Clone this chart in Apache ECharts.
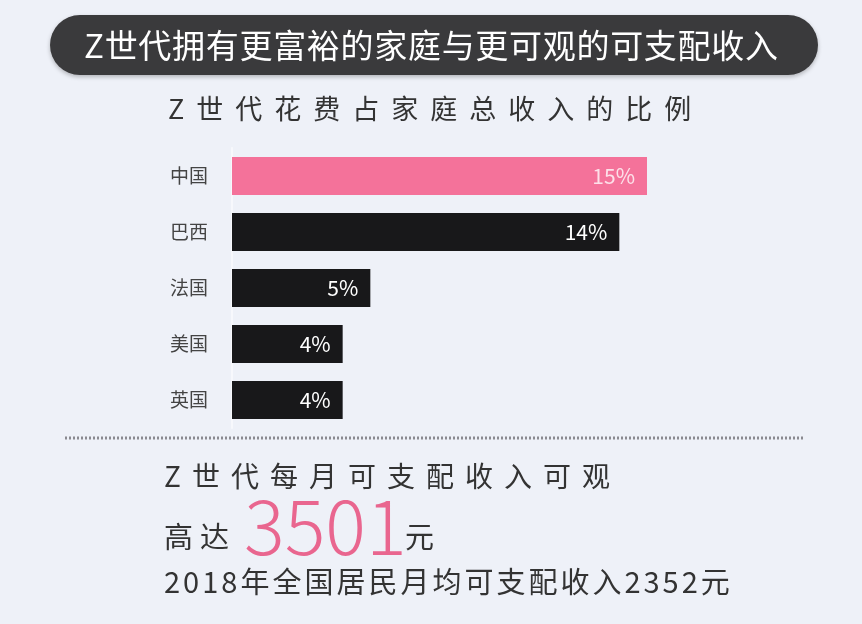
<!DOCTYPE html>
<html><head><meta charset="utf-8">
<script src="https://cdn.jsdelivr.net/npm/echarts@6/dist/echarts.min.js"></script>
<style>html,body{margin:0;padding:0;background:#eef1f8;}#c{width:862px;height:624px;}</style>
</head><body><div id="c"></div>
<script>
const titleText = 'Z世代拥有更富裕的家庭与更可观的可支配收入';
const subtitleText = 'Z世代花费占家庭总收入的比例';
const categories = ['中国', '巴西', '法国', '美国', '英国'];
const values = [15, 14, 5, 4, 4];
const line1 = 'Z世代每月可支配收入可观';
const highPrefix = '高达';
const genZIncome = 3501;
const nationalIncome = 2352;
const line3 = '2018年全国居民月均可支配收入' + nationalIncome + '元';

const FONT = '"Noto Sans CJK SC", "Noto Sans", sans-serif';
const PINK = '#f4729a';
const BLACK = '#18181a';
const measureCtx = document.createElement('canvas').getContext('2d');

function spacedWidth(str, size, spacing, weight) {
  measureCtx.font = (weight || 400) + ' ' + size + 'px ' + FONT;
  return Array.from(str).reduce((s, ch) => s + measureCtx.measureText(ch).width + spacing, -spacing);
}
function spaced(str, x0, y, size, spacing, color, weight) {
  const w = weight || 400;
  measureCtx.font = w + ' ' + size + 'px ' + FONT;
  let x = x0;
  return Array.from(str).map(ch => {
    const el = { type: 'text', x: x, y: y,
      style: { text: ch, font: w + ' ' + size + 'px ' + FONT, fill: color, textVerticalAlign: 'middle' } };
    x += measureCtx.measureText(ch).width + spacing;
    return el;
  });
}

const chart = echarts.init(document.getElementById('c'));
const titleW = spacedWidth(titleText, 33, 0.7, 400);
const graphic = [
  { type: 'rect', shape: { x: 50, y: 15, width: 768, height: 60, r: 30 },
    style: { fill: '#3a3a3c', shadowBlur: 4, shadowOffsetY: 2, shadowColor: 'rgba(0,0,0,0.25)' } },
  ...spaced(titleText, 431 - titleW / 2, 45, 33, 0.7, '#ffffff', 400),
  ...spaced(subtitleText, 168, 109, 27, 12, '#333333'),
  { type: 'line', shape: { x1: 65, y1: 438, x2: 803, y2: 438 },
    style: { stroke: '#8a8a90', lineWidth: 3, lineDash: [2, 2] } },
  ...spaced(line1, 164, 476, 28, 11, '#333333'),
  ...spaced(highPrefix, 164, 537, 29, 7, '#333333'),
  { type: 'text', x: 244, y: 526,
    style: { text: String(genZIncome), font: '300 76px ' + FONT, fill: '#e9668f', textVerticalAlign: 'middle' } },
  { type: 'text', x: 405, y: 537,
    style: { text: '元', font: '400 29px ' + FONT, fill: '#333333', textVerticalAlign: 'middle' } },
  ...spaced(line3, 164, 582, 29, 3, '#333333')
];

chart.setOption({
  backgroundColor: '#eef1f8',
  animation: false,
  grid: { left: 232, top: 148, width: 415, height: 280 },
  xAxis: { type: 'value', min: 0, max: 15, show: false },
  yAxis: {
    type: 'category', data: categories, inverse: true,
    axisLine: { show: true, lineStyle: { color: '#f7f8fc', width: 2 } },
    axisTick: { show: false },
    axisLabel: { margin: 24, fontSize: 19, color: '#444444', fontFamily: FONT }
  },
  series: [{
    type: 'bar', barWidth: 38,
    data: values.map((v, i) => ({
      value: v,
      itemStyle: { color: i === 0 ? PINK : BLACK },
      label: { color: i === 0 ? 'rgba(255,255,255,0.78)' : '#ffffff' }
    })),
    label: { show: true, position: 'insideRight', distance: 12, fontSize: 21, fontFamily: FONT,
      formatter: p => p.value + '%' }
  }],
  graphic: graphic
});
</script></body></html>
